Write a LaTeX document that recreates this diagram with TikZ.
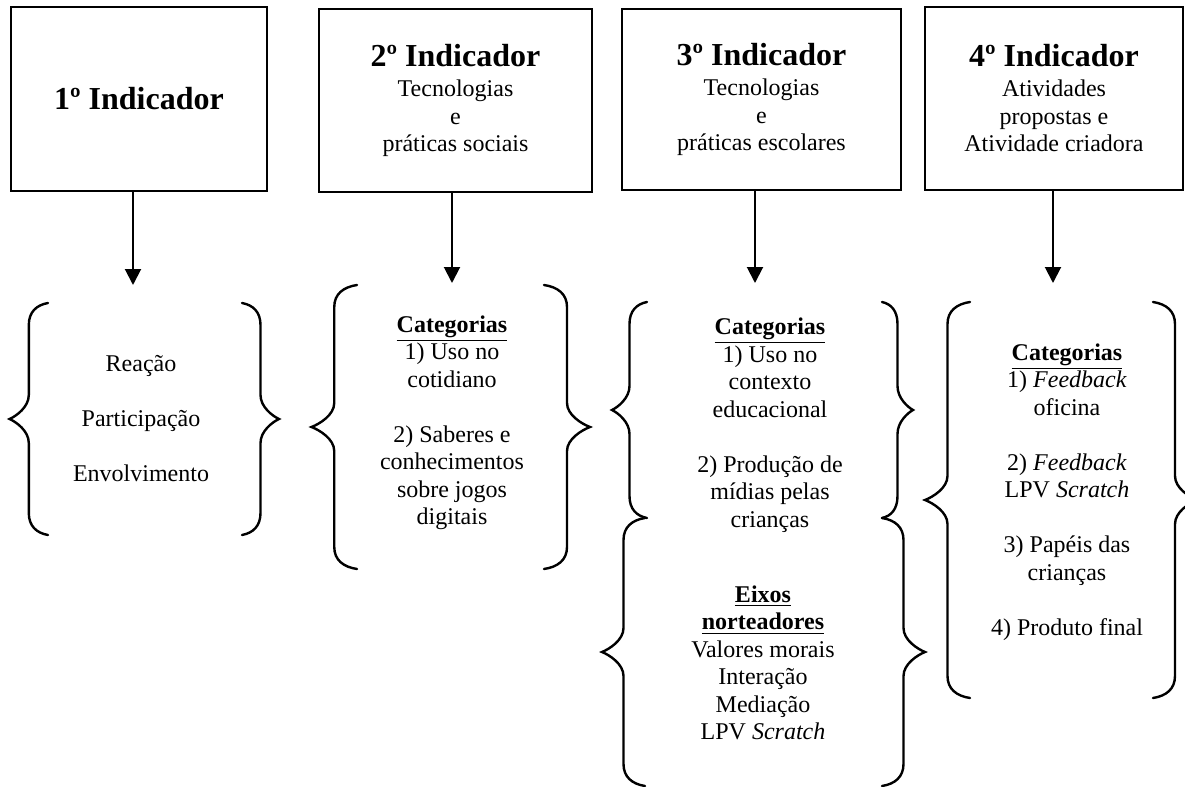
\documentclass[tikz,border=0pt]{standalone}
\usepackage{fontspec}
\setmainfont{Liberation Serif}
\usetikzlibrary{arrows.meta,positioning}
\tikzset{
  every picture/.style={line width=1pt},
  ibox/.style={draw, line width=1.1pt, align=center, inner sep=0pt,
               font=\fontsize{12}{13.75}\selectfont},
  itext/.style={align=center, inner sep=0pt, font=\fontsize{12}{13.75}\selectfont},
  iarrow/.style={-{Triangle[width=8pt,length=8pt]}, line width=1pt},
  ibrace/.style={line width=1.2pt, line cap=round},
}
\newcommand{\ititle}[1]{{\fontsize{16}{18}\selectfont\bfseries #1}}
\newcommand{\icat}[1]{\underline{\textbf{#1}}}
% curly brace: open-end x, tip x, top y, bottom y
\newcommand{\cbrace}[4]{%
  \pgfmathsetmacro{\bh}{(#1-(#2))/2}%
  \pgfmathsetmacro{\bv}{#1-\bh}%
  \pgfmathsetmacro{\bm}{(#3+#4)/2}%
  \draw[ibrace] (#1,#3) .. controls ({#1-0.6*\bh},#3+2) and (\bv,#3+9) .. (\bv,#3+22)
    -- (\bv,\bm-24) .. controls (\bv,\bm-12) and ({#2+0.35*\bh},\bm-3) .. (#2,\bm)
    .. controls ({#2+0.35*\bh},\bm+3) and (\bv,\bm+12) .. (\bv,\bm+24)
    -- (\bv,#4-22) .. controls (\bv,#4-9) and ({#1-0.6*\bh},#4-2) .. (#1,#4);
}

\begin{document}
\begin{tikzpicture}[x=0.5pt, y=-0.5pt]
  \useasboundingbox (0,0) rectangle (1185,787);
  \clip (0,0) rectangle (1185,787);

  \node[ibox, minimum width=128pt, minimum height=92pt] (b1) at (139,99)
        {\ititle{1º Indicador}};
  \node[ibox, minimum width=136.5pt, minimum height=91.5pt] (b2) at (455.5,100.5)
        {\ititle{2º Indicador}\\[1.25pt]Tecnologias\\e\\práticas sociais};
  \node[ibox, minimum width=139.5pt, minimum height=90.5pt] (b3) at (761.5,99.5)
        {\ititle{3º Indicador}\\[1.25pt]Tecnologias\\e\\práticas escolares};
  \node[ibox, minimum width=129pt, minimum height=91.5pt] (b4) at (1054,98.5)
        {\ititle{4º Indicador}\\[1.25pt]Atividades\\propostas e\\Atividade criadora};

  \coordinate (t1) at (133,285);
  \coordinate (t2) at (452,283);
  \coordinate (t3) at (755,283);
  \coordinate (t4) at (1053,283);
  \draw[iarrow] (b1.south -| t1) -- (t1);
  \draw[iarrow] (b2.south -| t2) -- (t2);
  \draw[iarrow] (b3.south -| t3) -- (t3);
  \draw[iarrow] (b4.south -| t4) -- (t4);

  \node[itext] (r1) at (141,419)
        {Reação\\[13.75pt]Participação\\[13.75pt]Envolvimento};
  \node[itext] (c2) at (452,423)
        {\icat{Categorias}\\1) Uso no\\cotidiano\\[13.75pt]2) Saberes e\\conhecimentos\\sobre jogos\\digitais};
  \node[itext] (c3) at (770,425)
        {\icat{Categorias}\\1) Uso no\\contexto\\educacional\\[13.75pt]2) Produção de\\mídias pelas\\crianças};
  \node[itext] (e3) at (763,663)
        {\icat{Eixos}\\\icat{norteadores}\\Valores morais\\Interação\\Mediação\\LPV \textit{Scratch}};
  \node[itext] (c4) at (1067,492)
        {\icat{Categorias}\\1) \textit{Feedback}\\oficina\\[13.75pt]2) \textit{Feedback}\\LPV \textit{Scratch}\\[13.75pt]3) Papéis das\\crianças\\[13.75pt]4) Produto final};

  \cbrace{48}{9.6}{303}{535}
  \cbrace{242}{279}{303}{535}
  \cbrace{357}{311.5}{285}{569}
  \cbrace{544}{590}{285}{569}
  \cbrace{647}{612}{302}{518}
  \cbrace{882}{913}{302}{518}
  \cbrace{645}{602}{518}{786}
  \cbrace{882}{925}{518}{786}
  \cbrace{970}{925}{302}{698}
  \cbrace{1153}{1197}{302}{698}
\end{tikzpicture}
\end{document}
